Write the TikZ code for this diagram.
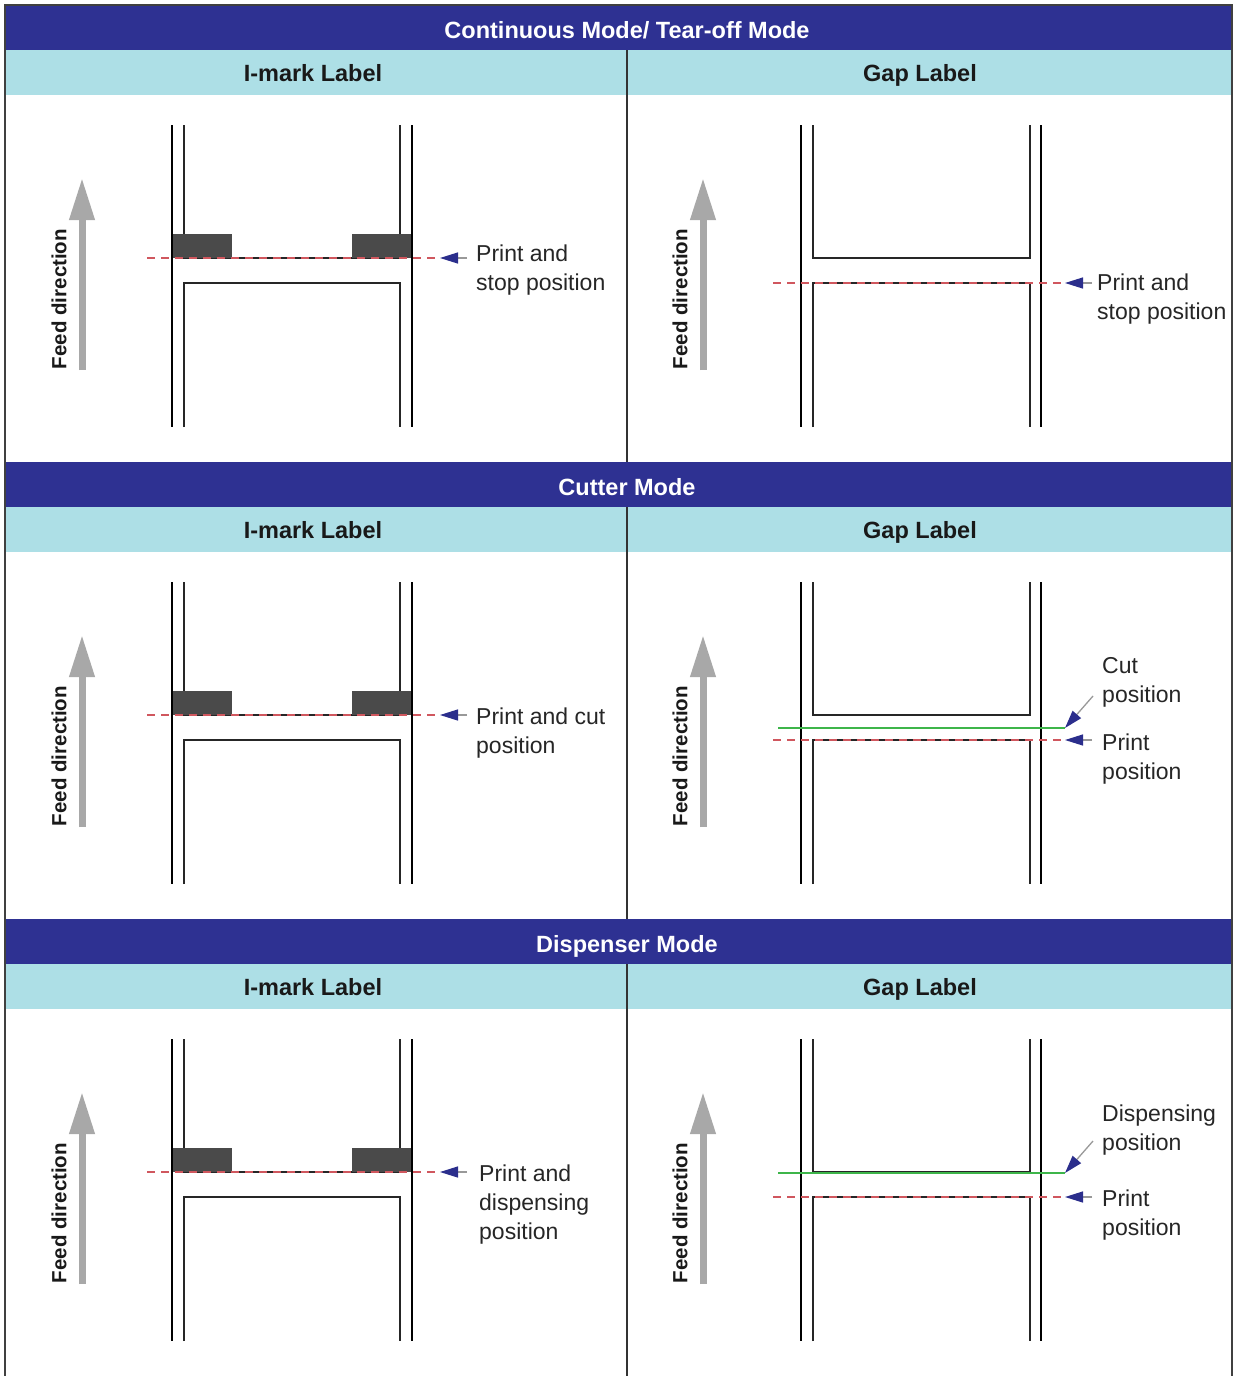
\documentclass[tikz,border=0pt]{standalone}
\usepackage{fontspec}
\setmainfont{Liberation Sans}
\usetikzlibrary{arrows.meta}
\definecolor{hdrblue}{HTML}{2E3192}
\definecolor{subcyan}{HTML}{ADDFE6}
\definecolor{markgray}{HTML}{4A4A4A}
\definecolor{feedgray}{HTML}{A8A8A8}
\definecolor{cutgreen}{HTML}{3DB54A}
\definecolor{ptrblue}{HTML}{2B2E8C}
\definecolor{posred}{HTML}{D0575E}
\begin{document}
\begin{tikzpicture}[x=1pt,y=-1pt,
  rail/.style={line width=2.4pt, black},
  edge/.style={line width=1.1pt, black!85},
  markblk/.style={fill=markgray},
  printline/.style={posred, line width=1.8pt, dash pattern=on 8pt off 6pt},
  cutline/.style={cutgreen, line width=2pt},
  pointer/.style={gray!80, line width=1.3pt, -{Triangle[length=18pt,width=11pt,color=ptrblue]}},
  feed/.style={feedgray, line width=7pt, -{Triangle[length=42pt,width=24pt]}},
  titletxt/.style={font=\bfseries\fontsize{23.5}{26}\selectfont, text=white, anchor=base},
  bandtxt/.style={font=\bfseries\fontsize{23.5}{26}\selectfont, text=black!90, anchor=base},
  feedtxt/.style={font=\bfseries\fontsize{20.5}{24}\selectfont, rotate=90, text=black!90},
  postxt/.style={font=\fontsize{23}{29}\selectfont, align=left, anchor=north west, inner sep=0pt, text=black!85},
]
  \fill[white] (0,0) rectangle (1234,1376);
  \useasboundingbox (0,0) rectangle (1234,1376);

  \foreach \s/\o in {1/0, 2/457, 3/914} {
    % bands
    \fill[hdrblue] (5,5+\o) rectangle (1232,50+\o);
    \fill[subcyan] (5,50+\o) rectangle (1232,95+\o);
    \draw[line width=1.5pt, black!80] (627,50+\o) -- (627,462+\o);
    \node[bandtxt] (imark\s) at (313,81+\o) {I-mark Label};
    \node[bandtxt] (gap\s) at (920,81+\o) {Gap Label};
    % feed arrows
    \foreach \fx/\tx/\side in {82/59/l, 703/680/r} {
      \coordinate (feedb\side\s) at (\fx,370+\o);
      \coordinate (feedt\side\s) at (\fx,178+\o);
      \draw[feed] (feedb\side\s) -- (feedt\side\s);
      \node[feedtxt] (feedtxt\side\s) at (\tx,299+\o) {Feed direction};
    }
    % I-mark label
    \draw[edge] (184,125+\o) -- (184,258+\o) -- (400,258+\o) -- (400,125+\o);
    \draw[edge] (184,427+\o) -- (184,283+\o) -- (400,283+\o) -- (400,427+\o);
    \fill[markblk] (172,234+\o) rectangle (232,258+\o);
    \fill[markblk] (352,234+\o) rectangle (412,258+\o);
    \draw[rail] (172,125+\o) -- (172,427+\o);
    \draw[rail] (412,125+\o) -- (412,427+\o);
    % gap label
    \draw[edge] (813,125+\o) -- (813,258+\o) -- (1030,258+\o) -- (1030,125+\o);
    \draw[edge] (813,427+\o) -- (813,283+\o) -- (1030,283+\o) -- (1030,427+\o);
    \draw[rail] (801,125+\o) -- (801,427+\o);
    \draw[rail] (1041,125+\o) -- (1041,427+\o);
    % print positions
    \coordinate (pla\s) at (147,258+\o);
    \coordinate (pltip\s) at (440,258+\o);
    \coordinate (pltail\s) at (467,258+\o);
    \draw[printline] (pla\s) -- (pltip\s);
    \draw[pointer] (pltail\s) -- (pltip\s);
    \coordinate (pra\s) at (773,283+\o);
    \coordinate (prtip\s) at (1065,283+\o);
    \coordinate (prtail\s) at (1092,283+\o);
    \draw[printline] (pra\s) -- (prtip\s);
    \draw[pointer] (prtail\s) -- (prtip\s);
  }

  \node[titletxt] (mode1) at (627,38) {Continuous Mode/ Tear-off Mode};
  \node[titletxt] (mode2) at (627,495) {Cutter Mode};
  \node[titletxt] (mode3) at (627,952) {Dispenser Mode};

  % cut and dispensing lines
  \coordinate (cuta) at (778,728);
  \coordinate (cutb) at (1065,728);
  \coordinate (cuttail) at (1093,696);
  \draw[cutline] (cuta) -- (cutb);
  \draw[pointer] (cuttail) -- (cutb);
  \coordinate (dispa) at (778,1173);
  \coordinate (dispb) at (1065,1173);
  \coordinate (disptail) at (1093,1141);
  \draw[cutline] (dispa) -- (dispb);
  \draw[pointer] (disptail) -- (dispb);

  % texts
  \node[postxt] (txtl1) at (476,244.5) {Print and\\stop position};
  \node[postxt] (txtr1) at (1097,273.5) {Print and\\stop position};
  \node[postxt] (txtl2) at (476,707.5) {Print and cut\\position};
  \node[postxt] (txtcut) at (1102,657) {Cut\\position};
  \node[postxt] (txtr2) at (1102,734) {Print\\position};
  \node[postxt] (txtl3) at (479,1164.5) {Print and\\dispensing\\position};
  \node[postxt] (txtdisp) at (1102,1105) {Dispensing\\position};
  \node[postxt] (txtr3) at (1102,1190) {Print\\position};

  % frame
  \draw[line width=2pt, black!75] (5,1376) -- (5,5) -- (1232,5) -- (1232,1376);
\end{tikzpicture}
\end{document}
